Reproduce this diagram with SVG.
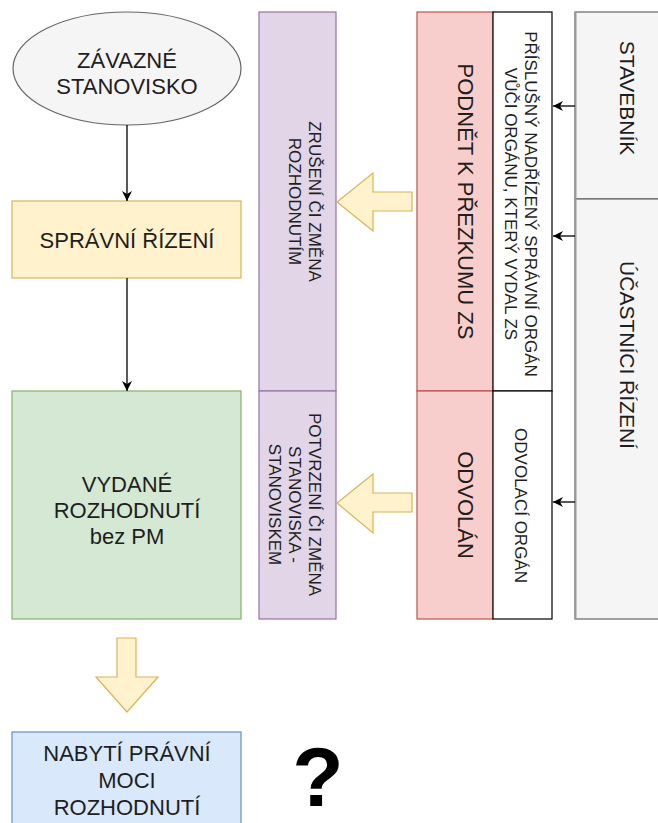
<svg xmlns="http://www.w3.org/2000/svg" width="658" height="823" viewBox="0 0 658 823">
  <defs>
    <style>
      .t { font-family: "Liberation Sans", Arial, sans-serif; fill: #1e1e1e; text-anchor: middle; }
      .big { font-size: 22px; }
      .small { font-size: 17px; }
      .edge { fill: none; stroke: #000; stroke-width: 1.3; }
      .block { fill: #fff2cc; stroke: #d6b656; stroke-width: 1.2; }
    </style>
    <marker id="classic" markerUnits="userSpaceOnUse" markerWidth="12" markerHeight="12" refX="10" refY="6" orient="auto">
      <path d="M0,1 L10,6 L0,11 L3,6 Z" fill="#000"/>
    </marker>
  </defs>

  <rect width="658" height="823" fill="#fff"/>

  <!-- left column: process flow -->
  <g id="zavazne-stanovisko">
    <ellipse cx="127" cy="68.5" rx="114" ry="56.5" fill="#f5f5f5" stroke="#666666" stroke-width="1.2"/>
    <text class="t big" x="127" y="68">ZÁVAZNÉ</text>
    <text class="t big" x="127" y="94">STANOVISKO</text>
  </g>

  <g id="spravni-rizeni">
    <rect x="12" y="201" width="229" height="77" fill="#fff2cc" stroke="#d6b656" stroke-width="1.2"/>
    <text class="t big" x="127" y="248">SPRÁVNÍ ŘÍZENÍ</text>
  </g>

  <g id="vydane-rozhodnuti">
    <rect x="12" y="391" width="229" height="228" fill="#d5e8d4" stroke="#82b366" stroke-width="1.2"/>
    <text class="t big" x="127" y="492">VYDANÉ</text>
    <text class="t big" x="127" y="518">ROZHODNUTÍ</text>
    <text class="t big" x="127" y="544">bez PM</text>
  </g>

  <g id="nabyti-pravni-moci">
    <rect x="12" y="732" width="229" height="100" fill="#dae8fc" stroke="#6c8ebf" stroke-width="1.2"/>
    <text class="t big" x="127" y="761">NABYTÍ PRÁVNÍ</text>
    <text class="t big" x="127" y="788">MOCI</text>
    <text class="t big" x="127" y="815">ROZHODNUTÍ</text>
  </g>

  <g id="otaznik">
    <text x="318" y="806" font-family="'Liberation Sans', Arial, sans-serif" font-weight="bold" font-size="84" fill="#000" text-anchor="middle">?</text>
  </g>

  <!-- outcome lanes -->
  <g id="zruseni-ci-zmena">
    <rect x="259" y="12" width="77" height="379" fill="#e1d5e7" stroke="#9673a6" stroke-width="1.2"/>
    <text class="t small" transform="translate(309,201.5) rotate(90)">ZRUŠENÍ ČI ZMĚNA</text>
    <text class="t small" transform="translate(289,201.5) rotate(90)">ROZHODNUTÍM</text>
  </g>

  <g id="potvrzeni-ci-zmena">
    <rect x="259" y="391" width="77" height="228" fill="#e1d5e7" stroke="#9673a6" stroke-width="1.2"/>
    <text class="t small" transform="translate(309,504.5) rotate(90)">POTVRZENÍ ČI ZMĚNA</text>
    <text class="t small" transform="translate(289,504.5) rotate(90)">STANOVISKA -</text>
    <text class="t small" transform="translate(269,504.5) rotate(90)">STANOVISKEM</text>
  </g>

  <!-- remedy lanes -->
  <g id="podnet-k-prezkumu">
    <rect x="417" y="12" width="76" height="379" fill="#f8cecc" stroke="#b85450" stroke-width="1.2"/>
    <text class="t big" transform="translate(458,201.5) rotate(90)">PODNĚT K PŘEZKUMU ZS</text>
  </g>

  <g id="odvolani">
    <rect x="417" y="391" width="76" height="228" fill="#f8cecc" stroke="#b85450" stroke-width="1.2"/>
    <text class="t big" transform="translate(458,505) rotate(90)">ODVOLÁN</text>
  </g>

  <!-- competent authority lanes -->
  <g id="nadrizeny-organ">
    <rect x="493" y="12" width="59" height="379" fill="#ffffff" stroke="#000" stroke-width="1.2"/>
    <text class="t small" transform="translate(525,204) rotate(90)">PŘÍSLUŠNÝ NADŘÍZENÝ SPRÁVNÍ ORGÁN</text>
    <text class="t small" transform="translate(505,204) rotate(90)">VŮČI ORGÁNU, KTERÝ VYDAL ZS</text>
  </g>

  <g id="odvolaci-organ">
    <rect x="493" y="391" width="59" height="228" fill="#ffffff" stroke="#000" stroke-width="1.2"/>
    <text class="t small" transform="translate(515,505.5) rotate(90)">ODVOLACÍ ORGÁN</text>
  </g>

  <!-- parties -->
  <g id="stavebnik">
    <rect x="575" y="12" width="90" height="187" fill="#f5f5f5" stroke="#666666" stroke-width="1.2"/>
    <text class="t" font-size="21" transform="translate(620,98) rotate(90)">STAVEBNÍK</text>
  </g>

  <g id="ucastnici-rizeni">
    <rect x="575" y="199" width="90" height="420" fill="#f5f5f5" stroke="#666666" stroke-width="1.2"/>
    <text class="t" font-size="21" transform="translate(620,355) rotate(90)">ÚČASTNÍCI ŘÍZENÍ</text>
  </g>
  <line x1="575.5" y1="12" x2="575.5" y2="619" stroke="#999" stroke-width="2"/>

  <!-- connectors -->
  <g id="connectors">
    <line class="edge" x1="127" y1="125" x2="127" y2="201" marker-end="url(#classic)"/>
    <line class="edge" x1="127" y1="278" x2="127" y2="391" marker-end="url(#classic)"/>
    <line class="edge" x1="575" y1="106" x2="553" y2="106" marker-end="url(#classic)"/>
    <line class="edge" x1="575" y1="236" x2="553" y2="236" marker-end="url(#classic)"/>
    <line class="edge" x1="575" y1="502" x2="553" y2="502" marker-end="url(#classic)"/>

    <!-- block arrows -->
    <path class="block" d="M412,192 L373,192 L373,173 L337,202 L373,231 L373,211 L412,211 Z"/>
    <path class="block" d="M412,493 L373,493 L373,474 L337,503 L373,533 L373,512 L412,512 Z"/>
    <path class="block" d="M117,638 L136,638 L136,677 L158,677 L127,712 L96,677 L117,677 Z"/>
  </g>
</svg>
